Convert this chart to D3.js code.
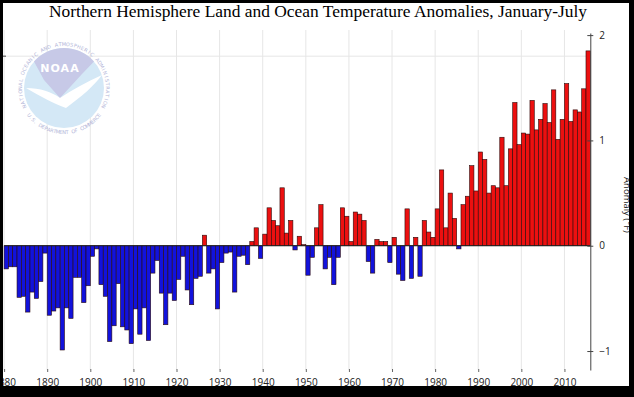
<!DOCTYPE html>
<html>
<head>
<meta charset="utf-8">
<script src="https://cdn.jsdelivr.net/npm/d3@7"></script>
<style>
body { margin: 0; background: #000; }
svg { display: block; }
</style>
</head>
<body>
<svg width="634" height="397"></svg>
<script>
// Jan-Jul anomalies (deg F), one per year starting 1880
var startYear = 1880;
var anomalies = [
  -0.22, -0.20, -0.20, -0.49, -0.48, -0.63, -0.44, -0.50, -0.34, -0.07,
  -0.66, -0.62, -0.59, -0.99, -0.59, -0.69, -0.30, -0.30, -0.54, -0.38,
  -0.10, -0.03, -0.37, -0.48, -0.91, -0.76, -0.36, -0.77, -0.80, -0.93,
  -0.60, -0.84, -0.59, -0.90, -0.26, -0.14, -0.45, -0.75, -0.45, -0.52,
  -0.32, -0.10, -0.42, -0.56, -0.31, -0.29, 0.10, -0.26, -0.22, -0.60,
  -0.16, -0.07, -0.06, -0.44, -0.10, -0.09, -0.18, 0.04, 0.17, -0.12,
  0.11, 0.36, 0.24, 0.19, 0.55, 0.12, 0.24, -0.04, 0.09, 0.01,
  -0.28, -0.11, 0.17, 0.39, -0.22, -0.11, -0.37, -0.11, 0.36, 0.28,
  0.04, 0.32, 0.30, 0.24, -0.15, -0.26, 0.06, 0.04, 0.04, -0.16,
  0.08, -0.27, -0.33, 0.35, -0.31, 0.08, -0.29, 0.24, 0.13, 0.08,
  0.35, 0.72, 0.17, 0.50, 0.26, -0.03, 0.39, 0.47, 0.76, 0.52,
  0.89, 0.82, 0.50, 0.57, 0.55, 1.03, 0.57, 0.92, 1.36, 0.96,
  1.07, 1.06, 1.38, 1.10, 1.20, 1.35, 1.17, 1.48, 1.01, 1.20,
  1.54, 1.18, 1.29, 1.27, 1.49, 1.85
];
var years = anomalies.map(function(d, i) { return startYear + i; });

var decadeTicks = [1880, 1890, 1900, 1910, 1920, 1930, 1940, 1950, 1960, 1970, 1980, 1990, 2000, 2010];
var anomalyTicks = [-1, 0, 1, 2];
var celsiusGrid = [1.8];   // 1 deg C line

var titleText = 'Northern Hemisphere Land and Ocean Temperature Anomalies, January-July';
var axisTitle = 'Anomaly (\u00B0F)';
var sealTop = 'NATIONAL OCEANIC AND ATMOSPHERIC ADMINISTRATION';
var sealBottom = 'U.S. DEPARTMENT OF COMMERCE';

var svg = d3.select('svg');

// black frame + white panel
svg.append('rect').attr('width', 634).attr('height', 397).attr('fill', '#000');
svg.append('rect').attr('x', 3).attr('y', 3).attr('width', 626).attr('height', 383).attr('fill', '#fff');
svg.append('defs').append('clipPath').attr('id', 'panel')
  .append('rect').attr('x', 3).attr('y', 3).attr('width', 626).attr('height', 383);

var g = svg.append('g').attr('clip-path', 'url(#panel)');

// scales
var x = d3.scaleLinear().domain([1880, 2016]).range([4.1, 590.3]);
var y = d3.scaleLinear().domain([-1.18, 2.02]).range([370, 33]);

// grid
g.selectAll('.vgrid').data(decadeTicks).enter().append('line')
  .attr('class', 'vgrid')
  .attr('x1', function(d) { return x(d); }).attr('x2', function(d) { return x(d); })
  .attr('y1', 30).attr('y2', 370)
  .attr('stroke', '#e6e6e6').attr('stroke-width', 1);

g.selectAll('.hgrid').data(celsiusGrid).enter().append('line')
  .attr('class', 'hgrid')
  .attr('x1', 3).attr('x2', x(2016))
  .attr('y1', function(d) { return y(d); }).attr('y2', function(d) { return y(d); })
  .attr('stroke', '#e6e6e6').attr('stroke-width', 1);

g.selectAll('.ltick').data(celsiusGrid).enter().append('line')
  .attr('class', 'ltick')
  .attr('x1', 3).attr('x2', 6)
  .attr('y1', function(d) { return y(d); }).attr('y2', function(d) { return y(d); })
  .attr('stroke', '#444');

// NOAA seal (faded)
var logo = g.append('g').attr('transform', 'translate(64,88)');
logo.append('circle').attr('r', 40).attr('fill', '#d4e8f6');
logo.append('path')
  .attr('d', 'M-30,-26.5 A40,40 0 0,1 30,-26.5 L18,-14 L-4,10 L-20,-8 Z')
  .attr('fill', '#c7c9e7');
logo.append('path')
  .attr('d', 'M-38,0 C-24,0 -12,4 -4,10 C8,2 22,-6 38,-13 C30,-2 18,8 2,20 C-10,16 -24,8 -38,0 Z')
  .attr('fill', '#fff');
logo.append('text').attr('x', -4).attr('y', -16).attr('text-anchor', 'middle')
  .style('font-family', 'DejaVu Sans, sans-serif').style('font-size', '11px').style('font-weight', 'bold')
  .style('letter-spacing', '1px').attr('fill', '#fff').text('NOAA');

// ring lettering, one glyph at a time
var topChars = sealTop.split('');
logo.selectAll('.sealTop').data(topChars).enter().append('text')
  .attr('class', 'sealTop')
  .attr('text-anchor', 'middle')
  .attr('transform', function(d, i) {
    var a = 205 - i * (230 / (topChars.length - 1));
    var r = a * Math.PI / 180;
    return 'translate(' + (42 * Math.cos(r)) + ',' + (-42 * Math.sin(r)) + ') rotate(' + (90 - a) + ')';
  })
  .style('font-family', 'DejaVu Sans, sans-serif').style('font-size', '5px')
  .attr('fill', '#b3b6d8')
  .text(function(d) { return d; });

var bottomChars = sealBottom.split('');
logo.selectAll('.sealBottom').data(bottomChars).enter().append('text')
  .attr('class', 'sealBottom')
  .attr('text-anchor', 'middle')
  .attr('transform', function(d, i) {
    var a = 218 + i * (104 / (bottomChars.length - 1));
    var r = a * Math.PI / 180;
    return 'translate(' + (46 * Math.cos(r)) + ',' + (-46 * Math.sin(r)) + ') rotate(' + (270 - a) + ')';
  })
  .style('font-family', 'DejaVu Sans, sans-serif').style('font-size', '5px')
  .attr('fill', '#b3b6d8')
  .text(function(d) { return d; });

// bars
g.selectAll('.bar').data(anomalies).enter().append('rect')
  .attr('class', 'bar')
  .attr('x', function(d, i) { return x(years[i]); })
  .attr('width', function(d, i) { return x(years[i] + 1) - x(years[i]); })
  .attr('y', function(d) { return y(Math.max(0, d)); })
  .attr('height', function(d) { return Math.abs(y(d) - y(0)); })
  .attr('fill', function(d) { return d >= 0 ? '#ec1010' : '#1212dc'; })
  .attr('stroke', '#2a0a0a').attr('stroke-width', 0.6);

// zero line
g.append('line')
  .attr('x1', x(1880)).attr('x2', x(2016))
  .attr('y1', y(0)).attr('y2', y(0))
  .attr('stroke', '#222').attr('stroke-width', 1);

// right axis
var yAxis = d3.axisRight(y).tickValues(anomalyTicks).tickSize(3).tickSizeOuter(0).tickPadding(6)
  .tickFormat(d3.format('d'));
var gY = g.append('g').attr('transform', 'translate(' + x(2016) + ',0)').call(yAxis);
gY.select('.domain').attr('stroke', '#444');
gY.selectAll('.tick line').attr('x1', -3).attr('stroke', '#444');
gY.selectAll('.tick text').style('font-family', 'Open Sans, sans-serif').style('font-size', '10px').attr('fill', '#222');

// bottom axis (ticks only)
var xAxis = d3.axisBottom(x).tickValues(decadeTicks).tickSize(3).tickPadding(7).tickFormat(d3.format('d'));
var gX = g.append('g').attr('transform', 'translate(0,369)').call(xAxis);
gX.select('.domain').remove();
gX.selectAll('.tick line').attr('stroke', '#666');
gX.selectAll('.tick text').style('font-family', 'Open Sans, sans-serif').style('font-size', '10px').attr('fill', '#222');

// axis title
g.append('text')
  .attr('transform', 'translate(624,205) rotate(90)')
  .attr('text-anchor', 'middle')
  .style('font-family', 'Open Sans, sans-serif').style('font-size', '9.5px').attr('fill', '#222')
  .text(axisTitle);

// chart title
g.append('text')
  .attr('x', 318).attr('y', 17)
  .attr('text-anchor', 'middle')
  .attr('textLength', 538).attr('lengthAdjust', 'spacingAndGlyphs')
  .style('font-family', 'Liberation Serif, serif').style('font-size', '16px').attr('fill', '#000')
  .text(titleText);
</script>
</body>
</html>
